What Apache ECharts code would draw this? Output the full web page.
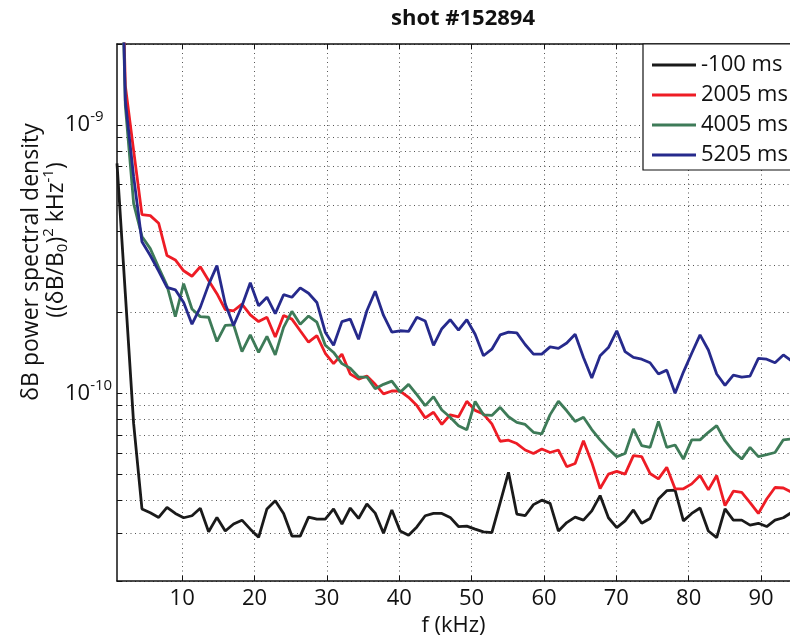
<!DOCTYPE html>
<html><head><meta charset="utf-8">
<script src="https://cdn.jsdelivr.net/npm/echarts@6/dist/echarts.min.js"></script>
<style>html,body{margin:0;padding:0;background:#fff}#c{width:790px;height:639px}</style>
</head><body><div id="c"></div>
<script>
const freqs = [1.00,2.15,3.30,4.45,5.60,6.76,7.91,9.06,10.21,11.36,
12.51,13.66,14.81,15.96,17.11,18.27,19.42,20.57,21.72,22.87,
24.02,25.17,26.32,27.47,28.62,29.78,30.93,32.08,33.23,34.38,
35.53,36.68,37.83,38.98,40.13,41.29,42.44,43.59,44.74,45.89,
47.04,48.19,49.34,50.49,51.64,52.80,53.95,55.10,56.25,57.40,
58.55,59.70,60.85,62.00,63.15,64.31,65.46,66.61,67.76,68.91,
70.06,71.21,72.36,73.51,74.66,75.82,76.97,78.12,79.27,80.42,
81.57,82.72,83.87,85.02,86.17,87.33,88.48,89.63,90.78,91.93,
93.08,94.23];
const psd_m100 = [7.18e-10,2.35e-10,7.71e-11,3.71e-11,3.59e-11,3.45e-11,3.76e-11,3.57e-11,3.44e-11,3.50e-11,
3.73e-11,3.05e-11,3.45e-11,3.07e-11,3.26e-11,3.37e-11,3.12e-11,2.91e-11,3.71e-11,3.98e-11,
3.57e-11,2.94e-11,2.94e-11,3.46e-11,3.40e-11,3.40e-11,3.71e-11,3.26e-11,3.74e-11,3.42e-11,
3.87e-11,3.58e-11,3.01e-11,3.68e-11,3.07e-11,2.96e-11,3.18e-11,3.50e-11,3.57e-11,3.57e-11,
3.45e-11,3.19e-11,3.20e-11,3.12e-11,3.05e-11,3.03e-11,3.92e-11,5.08e-11,3.55e-11,3.50e-11,
3.85e-11,4.00e-11,3.89e-11,3.07e-11,3.30e-11,3.46e-11,3.37e-11,3.65e-11,4.16e-11,3.44e-11,
3.16e-11,3.35e-11,3.68e-11,3.28e-11,3.42e-11,4.04e-11,4.34e-11,4.36e-11,3.35e-11,3.57e-11,
3.74e-11,3.07e-11,2.90e-11,3.71e-11,3.37e-11,3.37e-11,3.23e-11,3.28e-11,3.19e-11,3.37e-11,
3.44e-11,3.60e-11];
const psd_2005 = [2.5e-8,1.40e-9,8.02e-10,4.63e-10,4.59e-10,4.30e-10,3.26e-10,3.14e-10,2.86e-10,2.73e-10,
2.96e-10,2.63e-10,2.35e-10,2.05e-10,2.03e-10,2.15e-10,1.96e-10,1.85e-10,1.92e-10,1.62e-10,
1.95e-10,1.89e-10,1.71e-10,1.55e-10,1.64e-10,1.41e-10,1.29e-10,1.40e-10,1.18e-10,1.13e-10,
1.16e-10,1.08e-10,9.95e-11,1.02e-10,1.02e-10,9.66e-11,9.00e-11,8.10e-11,8.50e-11,7.66e-11,
8.32e-11,8.17e-11,9.34e-11,8.64e-11,8.37e-11,7.69e-11,6.63e-11,6.69e-11,6.50e-11,6.15e-11,
5.97e-11,6.20e-11,6.02e-11,6.15e-11,5.33e-11,5.48e-11,6.66e-11,5.53e-11,4.42e-11,5.00e-11,
5.12e-11,5.00e-11,5.86e-11,5.81e-11,5.03e-11,4.80e-11,5.30e-11,4.41e-11,4.41e-11,4.60e-11,
4.94e-11,4.37e-11,4.94e-11,3.82e-11,4.32e-11,4.28e-11,3.92e-11,3.57e-11,4.04e-11,4.46e-11,
4.44e-11,4.28e-11];
const psd_4005 = [2.2e-8,1.18e-9,5.09e-10,3.84e-10,3.46e-10,2.94e-10,2.52e-10,1.93e-10,2.56e-10,2.06e-10,
1.93e-10,1.92e-10,1.56e-10,1.79e-10,1.80e-10,1.43e-10,1.65e-10,1.42e-10,1.63e-10,1.39e-10,
1.76e-10,2.02e-10,1.81e-10,1.94e-10,1.84e-10,1.51e-10,1.42e-10,1.29e-10,1.24e-10,1.15e-10,
1.15e-10,1.04e-10,1.08e-10,1.11e-10,1.01e-10,1.08e-10,9.89e-11,9.00e-11,9.72e-11,8.67e-11,
8.14e-11,7.58e-11,7.31e-11,9.33e-11,8.32e-11,8.27e-11,8.87e-11,8.18e-11,7.80e-11,7.66e-11,
7.16e-11,7.06e-11,8.33e-11,9.34e-11,8.61e-11,7.86e-11,8.14e-11,7.33e-11,6.71e-11,6.21e-11,
5.81e-11,5.97e-11,7.37e-11,6.39e-11,6.29e-11,7.86e-11,6.29e-11,6.42e-11,5.69e-11,6.71e-11,
6.71e-11,7.16e-11,7.58e-11,6.66e-11,6.08e-11,5.69e-11,6.29e-11,5.81e-11,5.91e-11,6.02e-11,
6.71e-11,6.76e-11];
const psd_5205 = [2.5e-8,1.23e-9,6.41e-10,3.67e-10,3.26e-10,2.85e-10,2.48e-10,2.43e-10,2.18e-10,1.81e-10,
2.09e-10,2.54e-10,2.99e-10,2.15e-10,1.79e-10,2.12e-10,2.58e-10,2.12e-10,2.28e-10,1.98e-10,
2.33e-10,2.28e-10,2.47e-10,2.36e-10,2.18e-10,1.69e-10,1.51e-10,1.85e-10,1.89e-10,1.59e-10,
2.03e-10,2.40e-10,1.95e-10,1.69e-10,1.71e-10,1.70e-10,1.92e-10,1.86e-10,1.51e-10,1.74e-10,
1.88e-10,1.72e-10,1.88e-10,1.66e-10,1.38e-10,1.46e-10,1.65e-10,1.69e-10,1.68e-10,1.52e-10,
1.40e-10,1.40e-10,1.49e-10,1.47e-10,1.54e-10,1.66e-10,1.36e-10,1.14e-10,1.38e-10,1.48e-10,
1.71e-10,1.43e-10,1.36e-10,1.34e-10,1.30e-10,1.18e-10,1.22e-10,1.00e-10,1.20e-10,1.41e-10,
1.65e-10,1.45e-10,1.18e-10,1.07e-10,1.17e-10,1.15e-10,1.16e-10,1.35e-10,1.34e-10,1.30e-10,
1.39e-10,1.32e-10];
const seriesNames = ['-100 ms','2005 ms','4005 ms','5205 ms'];
const seriesColors = ['#1a1a1a','#ee1c25','#3e7b58','#262a8c'];
const xTicks = [10,20,30,40,50,60,70,80,90];
const yTicks = [2e-11,3e-11,4e-11,5e-11,6e-11,7e-11,8e-11,9e-11,1e-10,2e-10,3e-10,4e-10,5e-10,6e-10,7e-10,8e-10,9e-10,1e-9,2e-9];
const yLabelTicks = [1e-10,1e-9];
const titleText = 'shot #152894';
const xName = 'f (kHz)';
const yNameLine1 = '\u03b4B power spectral density';

const FONT = '"Open Sans", "DejaVu Sans", sans-serif';
const allData = [psd_m100, psd_2005, psd_4005, psd_5205];
const chart = echarts.init(document.getElementById('c'), null, {renderer:'canvas'});
const dotted = {color:'#555', width:1, type:[1,3.5]};
chart.setOption({
  animation:false,
  backgroundColor:'#fff',
  title:{text:titleText, left:386, top:3,
    textStyle:{fontFamily:FONT, fontSize:22, fontWeight:'bold', color:'#111'}},
  legend:{orient:'vertical', left:643, top:44, data:seriesNames, icon:'rect',
    backgroundColor:'#fff', borderColor:'#111', borderWidth:1.2,
    padding:[10,10,4,9], itemWidth:44, itemHeight:3, itemGap:8,
    textStyle:{fontFamily:FONT, fontSize:22, lineHeight:22, color:'#111'}},
  grid:{left:117, right:0, top:44, bottom:58, show:false, containLabel:false, outerBoundsMode:'none'},
  graphic:[
    {type:'text', x:31, y:262, rotation:Math.PI/2, silent:true,
     style:{text:yNameLine1, fontFamily:FONT, fontSize:23, fill:'#111', align:'center', verticalAlign:'middle'}},
    {type:'text', x:56, y:240, rotation:Math.PI/2, silent:true,
     style:{text:'{t|((\u03b4B/B}{sub|0}{t|)}{sup|2}{t| kHz}{sup|-1}{t|)}', fontFamily:FONT, fontSize:23, fill:'#111',
       align:'center', verticalAlign:'middle',
       rich:{t:{fontFamily:FONT, fontSize:23, fill:'#111'},
             sub:{fontFamily:FONT, fontSize:15, fill:'#111', padding:[13,0,0,0]},
             sup:{fontFamily:FONT, fontSize:15, fill:'#111', padding:[0,0,15,0]}}}}
  ],
  xAxis:[{
    type:'value', min:1, max:94,
    name:xName, nameLocation:'middle', nameGap:28,
    nameTextStyle:{fontFamily:FONT, fontSize:22, color:'#111'},
    axisLine:{lineStyle:{color:'#111', width:1.5}},
    axisTick:{inside:true, length:5, customValues:xTicks, lineStyle:{color:'#111'}},
    axisLabel:{customValues:xTicks, fontFamily:FONT, fontSize:22, color:'#111', margin:7},
    splitLine:{show:true, lineStyle:dotted}
  },{
    type:'value', min:1, max:94, position:'top',
    axisLine:{lineStyle:{color:'#111', width:1.5}},
    axisTick:{inside:true, length:5, customValues:xTicks, lineStyle:{color:'#111'}},
    axisLabel:{show:false}, splitLine:{show:false}
  }],
  yAxis:{
    type:'log', logBase:10, min:2e-11, max:2e-9,
    axisLine:{lineStyle:{color:'#111', width:1.5}},
    axisTick:{inside:true, length:5, customValues:yTicks, lineStyle:{color:'#111'}},
    axisLabel:{customValues:yLabelTicks, align:'left', margin:52,
      formatter:function(v){const e=Math.round(Math.log10(v)); return '{a|10}{b|'+e+'}';},
      rich:{a:{fontFamily:FONT, fontSize:22, color:'#111'},
            b:{fontFamily:FONT, fontSize:15, color:'#111', padding:[0,0,16,0]}}},
    splitLine:{show:true, lineStyle:dotted}
  },
  series: allData.map(function(arr, k){
    return {name:seriesNames[k], type:'line', symbol:'none', clip:true,
      color:seriesColors[k],
      lineStyle:{width:2.8, color:seriesColors[k]},
      data: freqs.map(function(f,i){return [f, arr[i]];})};
  })
});
</script></body></html>
